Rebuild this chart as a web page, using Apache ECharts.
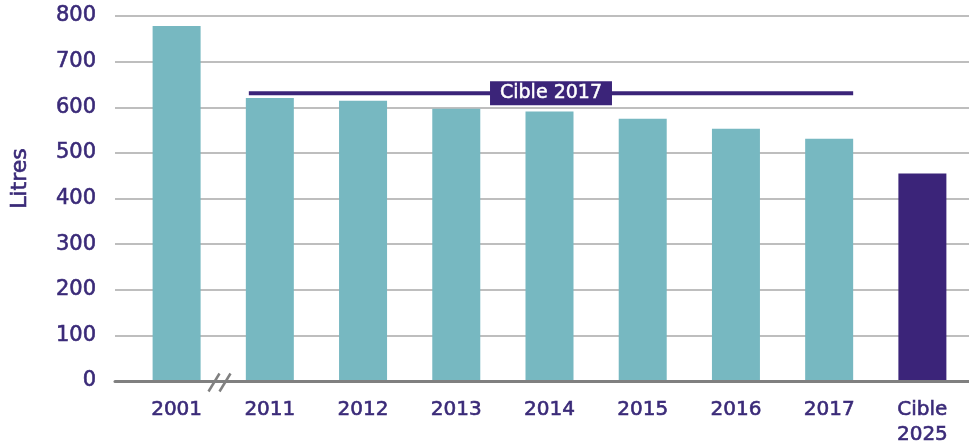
<!DOCTYPE html>
<html>
<head>
<meta charset="utf-8">
<script src="https://cdn.jsdelivr.net/npm/echarts@6/dist/echarts.min.js"></script>
<style>
  html, body { margin: 0; padding: 0; background: #fff; }
  #chart { width: 969px; height: 447px; }
</style>
</head>
<body>
<div id="chart"></div>
<script>
// données
const categories = ['2001', '2011', '2012', '2013', '2014', '2015', '2016', '2017', 'Cible\n2025'];
const litres = [778, 620, 614, 596, 590, 574, 552, 530, 454];
const targetLine = [['2011', '2017', 630, 'Cible 2017']];
const yTicks = { min: 0, max: 800, interval: 100 };

const TEAL = '#77b8c1';
const PURPLE = '#3b2479';
const TEXT = '#3a2a78';
const FONT = '"DejaVu Sans", sans-serif';
const BAR_W = 48;

// léger contour pour épaissir le trait du texte (graisse "medium")
const thick = (c) => ({ textBorderColor: c, textBorderWidth: 0.6 });

const chart = echarts.init(document.getElementById('chart'));

const barData = litres.map((v, i) =>
  i === litres.length - 1 ? { value: v, itemStyle: { color: PURPLE } } : v
);

chart.setOption({
  animation: false,
  grid: [
    { left: 115, right: 0, top: 16, bottom: 66 },
    { left: 130, width: 842, top: 16, bottom: 66 }
  ],
  xAxis: [
    {
      gridIndex: 0, type: 'value', min: 0, max: 1,
      axisLine: { show: true, lineStyle: { color: '#808080', width: 3 } },
      axisTick: { show: false }, axisLabel: { show: false }, splitLine: { show: false }
    },
    {
      gridIndex: 1, type: 'category', data: categories,
      axisLine: { show: false }, axisTick: { show: false },
      axisLabel: {
        color: TEXT, fontFamily: FONT, fontSize: 20, ...thick(TEXT),
        margin: 17, lineHeight: 25, verticalAlign: 'top'
      }
    }
  ],
  yAxis: [
    {
      gridIndex: 0, type: 'value', ...yTicks,
      name: 'Litres', nameLocation: 'middle', nameGap: 84, nameRotate: 90,
      nameTextStyle: { color: TEXT, fontFamily: FONT, fontSize: 22, ...thick(TEXT), padding: [0, 0, 0, 40] },
      axisLine: { show: false }, axisTick: { show: false },
      axisLabel: { color: TEXT, fontFamily: FONT, fontSize: 21, ...thick(TEXT), margin: 19 },
      splitLine: { lineStyle: { color: '#a8a8a8', width: 1.5 } }
    },
    {
      gridIndex: 1, type: 'value', ...yTicks, show: false
    }
  ],
  series: [
    {
      type: 'bar', xAxisIndex: 1, yAxisIndex: 1,
      data: barData, barWidth: BAR_W,
      itemStyle: { color: TEAL }
    },
    {
      type: 'custom', xAxisIndex: 1, yAxisIndex: 1,
      encode: { x: [0, 1], y: 2 },
      data: targetLine,
      z: 5,
      renderItem: function (params, api) {
        const a = api.coord([api.value(0), api.value(2)]);
        const b = api.coord([api.value(1), api.value(2)]);
        const x1 = a[0] - BAR_W / 2 + 3, x2 = b[0] + BAR_W / 2;
        return {
          type: 'group',
          children: [
            {
              type: 'line',
              shape: { x1: x1, y1: a[1], x2: x2, y2: a[1] },
              style: { stroke: PURPLE, lineWidth: 4 }
            },
            {
              type: 'text',
              x: (x1 + x2) / 2, y: a[1],
              style: {
                text: api.value(3), fill: '#fff',
                font: '19px ' + FONT,
                textStroke: '#fff', lineWidth: 0.5,
                align: 'center', verticalAlign: 'middle',
                backgroundColor: PURPLE, padding: [3, 10, 2, 10]
              }
            }
          ]
        };
      }
    }
  ],
  graphic: [
    {
      type: 'group', left: 206, top: 371, z: 10,
      children: [
        { type: 'line', shape: { x1: 0, y1: 18, x2: 11, y2: 0 }, style: { stroke: '#808080', lineWidth: 2.5 } },
        { type: 'line', shape: { x1: 11, y1: 18, x2: 22, y2: 0 }, style: { stroke: '#808080', lineWidth: 2.5 } }
      ]
    }
  ]
});
</script>
</body>
</html>
